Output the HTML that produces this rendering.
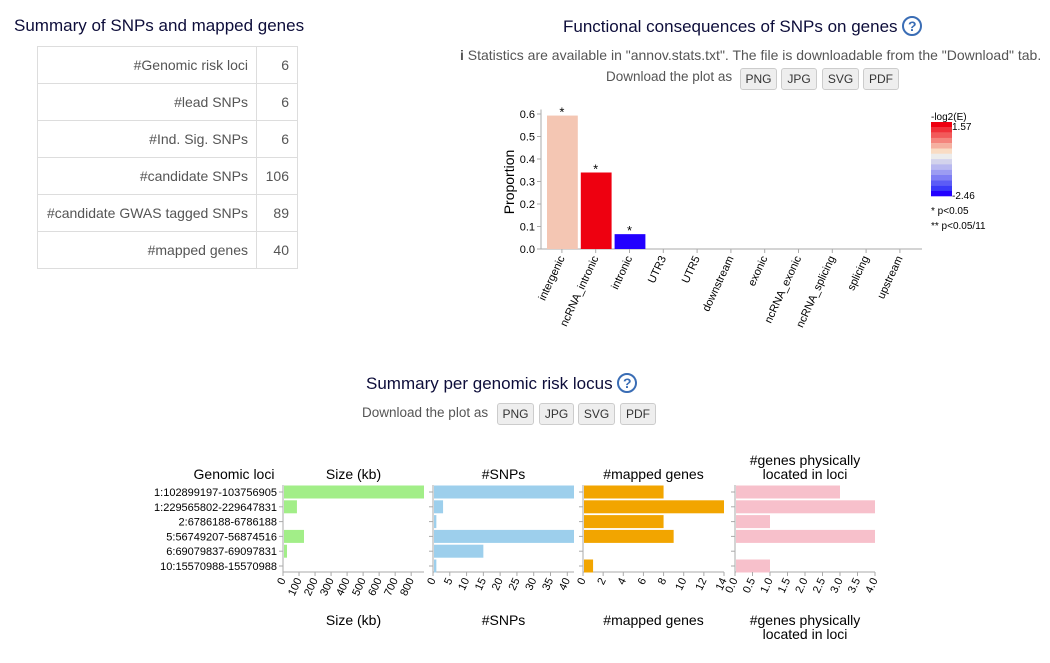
<!DOCTYPE html>
<html><head><meta charset="utf-8"><style>
body{margin:0;width:1050px;height:663px;background:#fff;font-family:"Liberation Sans",sans-serif;position:relative;overflow:hidden;color:#333}
.abs{position:absolute}
h3{position:absolute;margin:0;font-weight:normal;font-size:17px;color:#0d0d3a}
.help{display:inline-block;width:16px;height:16px;border:2px solid #3a6db5;border-radius:50%;color:#3a6db5;font-size:14px;font-weight:bold;text-align:center;line-height:16px;vertical-align:1px}
.btn{position:absolute;height:20px;border:1px solid #ccc;background:#eee;border-radius:3px;font-size:12px;line-height:20px;text-align:center;color:#333}
table{position:absolute;left:37px;top:46px;border-collapse:collapse;font-size:14px;color:#555}
td{border:1px solid #ddd;height:36px;padding:0 8px;text-align:right}
svg text{font-family:"Liberation Sans",sans-serif}
</style></head><body>
<h3 style="left:14px;top:16px">Summary of SNPs and mapped genes</h3>
<table>
<tr><td style="width:202px">#Genomic risk loci</td><td style="width:24px">6</td></tr>
<tr><td>#lead SNPs</td><td>6</td></tr>
<tr><td>#Ind. Sig. SNPs</td><td>6</td></tr>
<tr><td>#candidate SNPs</td><td>106</td></tr>
<tr><td>#candidate GWAS tagged SNPs</td><td>89</td></tr>
<tr><td>#mapped genes</td><td>40</td></tr>
</table>
<h3 style="left:563px;top:16px">Functional consequences of SNPs on genes <span class="help">?</span></h3>
<div class="abs" style="left:460px;top:47px;font-size:14px;color:#555;white-space:nowrap"><b>i</b> Statistics are available in "annov.stats.txt". The file is downloadable from the "Download" tab.</div>
<div class="abs" style="left:606px;top:69px;font-size:13.5px;color:#555">Download the plot as</div>
<div class="btn" style="left:740px;top:68px;width:35px">PNG</div>
<div class="btn" style="left:781px;top:68px;width:34px">JPG</div>
<div class="btn" style="left:822px;top:68px;width:35px">SVG</div>
<div class="btn" style="left:863px;top:68px;width:34px">PDF</div>
<h3 style="left:366px;top:373px">Summary per genomic risk locus <span class="help">?</span></h3>
<div class="abs" style="left:362px;top:405px;font-size:13.5px;color:#555">Download the plot as</div>
<div class="btn" style="left:497px;top:403px;width:35px">PNG</div>
<div class="btn" style="left:539px;top:403px;width:33px">JPG</div>
<div class="btn" style="left:578px;top:403px;width:35px">SVG</div>
<div class="btn" style="left:620px;top:403px;width:34px">PDF</div>
<svg id="c1" class="abs" style="left:0;top:0" width="1050" height="663"></svg>
<script>
const funcCats=["intergenic","ncRNA_intronic","intronic","UTR3","UTR5","downstream","exonic","ncRNA_exonic","ncRNA_splicing","splicing","upstream"];
const funcVals=[0.593,0.34,0.066,0,0,0,0,0,0,0,0];
const funcColors=["#f4c6b3","#ee0010","#2200ff",null,null,null,null,null,null,null,null];
const funcStars=["*","*","*","","","","","","","",""];
const yTicks=[0,0.1,0.2,0.3,0.4,0.5,0.6];
const loci=["1:102899197-103756905","1:229565802-229647831","2:6786188-6786188","5:56749207-56874516","6:69079837-69097831","10:15570988-15570988"];
const sizeKb=[880,87,0,131,25,0];
const nSNPs=[42,3,1,42,15,1];
const mappedGenes=[8,14,8,9,0,1];
const physGenes=[3,4,1,4,0,1];
const sizeTicks=[0,100,200,300,400,500,600,700,800];
const snpTicks=[0,5,10,15,20,25,30,35,40];
const mapTicks=[0,2,4,6,8,10,12,14];
const physTicks=["0.0","0.5","1.0","1.5","2.0","2.5","3.0","3.5","4.0"];
const legendColors=["#ee0010","#f03038","#f25a5a","#f4857d","#f5b0a0","#f9dcc4","#ececec","#d3d3ec","#b8b8f0","#9c9cf2","#7e7ef4","#5c5cf6","#3a3af9","#2200ff"];
const S=document.getElementById('c1');const NS='http://www.w3.org/2000/svg';
function mk(t,a,txt){const e=document.createElementNS(NS,t);for(const k in a)e.setAttribute(k,a[k]);if(txt!==undefined)e.textContent=txt;S.appendChild(e);return e;}
const x0=541,y0=249,yk=225,band=33.8,xs0=545;
const ys=v=>y0-v*yk, xc=i=>xs0+band*i+band/2;
let e=mk('line',{x1:x0,y1:ys(0.62),x2:x0,y2:y0,stroke:'#aaa'});

e=mk('line',{x1:x0,y1:y0,x2:922,y2:y0,stroke:'#aaa'});

yTicks.forEach(t=>{mk('line',{x1:x0-4,x2:x0,y1:ys(t),y2:ys(t),stroke:'#aaa'});
e=mk('text',{x:x0-6,y:ys(t)+4,'font-size':11,'text-anchor':'end',fill:'#000'},t.toFixed(1));
});
e=mk('text',{transform:`translate(514,182) rotate(-90)`,'font-size':14,'text-anchor':'middle',fill:'#000'},'Proportion');

funcCats.forEach((c,i)=>{const x=xc(i);
mk('line',{x1:x,x2:x,y1:y0,y2:y0+4,stroke:'#aaa'});
if(funcVals[i]>0){e=mk('rect',{x:x-band/2+2,y:ys(funcVals[i]),width:band-3,height:funcVals[i]*yk,fill:funcColors[i]});
}
if(funcStars[i]){e=mk('text',{x:x,y:ys(funcVals[i])+1,'font-size':13,'text-anchor':'middle',fill:'#000'},funcStars[i]);
}
e=mk('text',{transform:`translate(${x+3},${y0+9}) rotate(-65)`,'font-size':11,'text-anchor':'end',fill:'#000'},c);
});
legendColors.forEach((c,i)=>{e=mk('rect',{x:931,y:122+i*5.3,width:21,height:5.4,fill:c});
});
[['-log2(E)',931,120],['1.57',952,130],['-2.46',952,199],['* p<0.05',931,214],['** p<0.05/11',931,229]].forEach(a=>{
e=mk('text',{x:a[1],y:a[2],'font-size':10,fill:'#000'},a[0]);});
const rowY=i=>492+i*14.8;
loci.forEach((l,i)=>{e=mk('text',{x:277,y:rowY(i)+4,'font-size':11,'text-anchor':'end',fill:'#000'},l);
});
e=mk('text',{x:234,y:479,'font-size':14,'text-anchor':'middle',fill:'#000'},'Genomic loci');

const panels=[
{name:'size',x:283,w:141,max:880,vals:sizeKb,ticks:sizeTicks,tv:sizeTicks,color:'#a2ee88',title:['Size (kb)']},
{name:'snps',x:433,w:141,max:42,vals:nSNPs,ticks:snpTicks,tv:snpTicks,color:'#9dcfec',title:['#SNPs']},
{name:'mapped',x:583,w:141,max:14,vals:mappedGenes,ticks:mapTicks,tv:mapTicks,color:'#f2a500',title:['#mapped genes']},
{name:'physical',x:735,w:140,max:4,vals:physGenes,ticks:physTicks,tv:physTicks.map(Number),color:'#f7c0cb',title:['#genes physically','located in loci']}];
panels.forEach(p=>{const sx=v=>p.x+v/p.max*p.w;
mk('line',{x1:p.x,x2:p.x,y1:485,y2:572,stroke:'#aaa'});
mk('line',{x1:p.x,x2:p.x+p.w,y1:572,y2:572,stroke:'#aaa'});
loci.forEach((l,i)=>{mk('line',{x1:p.x-4,x2:p.x,y1:rowY(i),y2:rowY(i),stroke:'#aaa'});
if(p.vals[i]>0){e=mk('rect',{x:p.x+1,y:rowY(i)-6.5,width:sx(p.vals[i])-p.x-1,height:13,fill:p.color});
}});
p.ticks.forEach((t,j)=>{const x=sx(p.tv[j]);mk('line',{x1:x,x2:x,y1:572,y2:576,stroke:'#aaa'});
e=mk('text',{transform:`translate(${x+3},${580}) rotate(-65)`,'font-size':11,'text-anchor':'end',fill:'#000'},t);
});
const cx=p.x+p.w/2;
[[p.title,p.title.length>1?465:479],[p.title,625]].forEach(([tt,yy])=>{
tt.forEach((s,k)=>{e=mk('text',{x:cx,y:yy+k*14,'font-size':14,'text-anchor':'middle',fill:'#000'},s);
});});
});
</script>
</body></html>
